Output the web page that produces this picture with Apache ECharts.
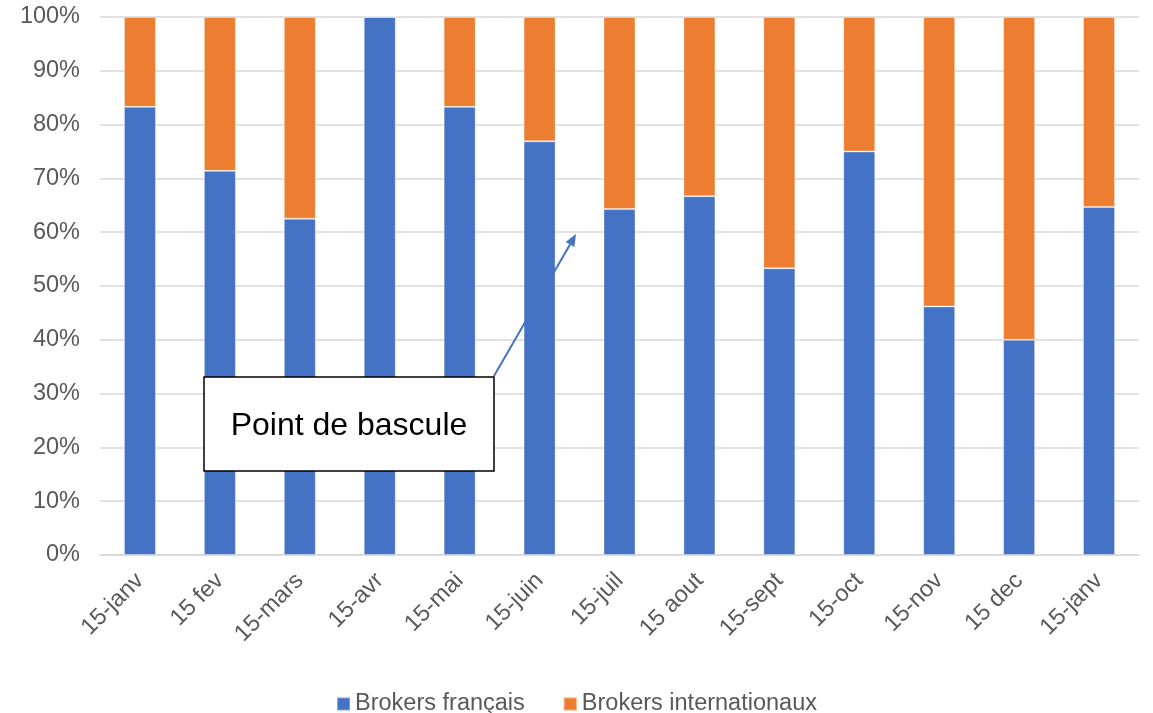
<!DOCTYPE html>
<html>
<head>
<meta charset="utf-8">
<script src="https://cdn.jsdelivr.net/npm/echarts@6/dist/echarts.min.js"></script>
<style>
    html, body { margin: 0; padding: 0; background: #fff; }
    #chart { width: 1153px; height: 713px; }
</style>
</head>
<body>
<div id="chart"></div>
<script>
// months
const categories = ['15-janv', '15 fev', '15-mars', '15-avr', '15-mai', '15-juin', '15-juil',
    '15 aout', '15-sept', '15-oct', '15-nov', '15 dec', '15-janv'];
// share of french brokers, in %
const francais = [83.3, 71.4, 62.5, 100, 83.3, 76.9, 64.3, 66.7, 53.3, 75, 46.2, 40, 64.7];
const internationaux = [16.7, 28.6, 37.5, 0, 16.7, 23.1, 35.7, 33.3, 46.7, 25, 53.8, 60, 35.3];
const yTicks = [0, 10, 20, 30, 40, 50, 60, 70, 80, 90, 100];

const chart = echarts.init(document.getElementById('chart'));
const font = 'Liberation Sans, Arial, sans-serif';

// arrow of the callout box
const from = [494, 376];
const tip = [576, 234];
const len = Math.hypot(tip[0] - from[0], tip[1] - from[1]);
const u = [(tip[0] - from[0]) / len, (tip[1] - from[1]) / len];
const base = [tip[0] - 12 * u[0], tip[1] - 12 * u[1]];
const perp = [-u[1], u[0]];
const head = [
    tip,
    [base[0] + 5 * perp[0], base[1] + 5 * perp[1]],
    [base[0] - 5 * perp[0], base[1] - 5 * perp[1]],
];

chart.setOption({
    animation: false,
    textStyle: { fontFamily: font },
    grid: { left: 100, right: 14, top: 17, bottom: 158, containLabel: false },
    legend: {
        top: 687,
        left: 'center',
        icon: 'rect',
        itemWidth: 13,
        itemHeight: 13,
        itemGap: 38,
        textStyle: { fontSize: 23.5, color: '#595959', fontFamily: font },
        data: ['Brokers français', 'Brokers internationaux'],
    },
    xAxis: {
        type: 'category',
        data: categories,
        axisTick: { show: false },
        axisLine: { lineStyle: { color: '#d9d9d9', width: 1.5 } },
        axisLabel: { rotate: 45, fontSize: 23.5, color: '#595959', margin: 22, interval: 0 },
    },
    yAxis: {
        type: 'value',
        min: yTicks[0],
        max: yTicks[yTicks.length - 1],
        interval: 10,
        axisLine: { show: false },
        axisTick: { show: false },
        splitLine: { lineStyle: { color: '#d9d9d9', width: 1.5 } },
        axisLabel: { formatter: '{value}%', fontSize: 23.5, color: '#595959', margin: 20 },
    },
    series: [
        {
            name: 'Brokers français',
            type: 'bar',
            stack: 'total',
            barWidth: 32,
            data: francais,
            itemStyle: { color: '#4472C4', borderColor: 'rgba(255,255,255,0.35)', borderWidth: 1 },
        },
        {
            name: 'Brokers internationaux',
            type: 'bar',
            stack: 'total',
            barWidth: 32,
            data: internationaux,
            itemStyle: { color: '#ED7D31', borderColor: 'rgba(255,255,255,0.35)', borderWidth: 1 },
        },
    ],
    graphic: [
        {
            type: 'line',
            shape: { x1: from[0], y1: from[1], x2: base[0], y2: base[1] },
            style: { stroke: '#4472C4', lineWidth: 2 },
            z: 100,
        },
        {
            type: 'polygon',
            shape: { points: head },
            style: { fill: '#4472C4' },
            z: 100,
        },
        {
            type: 'rect',
            shape: { x: 204, y: 377, width: 290, height: 94 },
            style: { fill: '#fff', stroke: '#000', lineWidth: 1.5 },
            z: 100,
        },
        {
            type: 'text',
            x: 349,
            y: 426,
            style: {
                text: 'Point de bascule',
                fontSize: 32,
                fontFamily: font,
                fill: '#000',
                align: 'center',
                verticalAlign: 'middle',
            },
            z: 101,
        },
    ],
});
</script>
</body>
</html>
